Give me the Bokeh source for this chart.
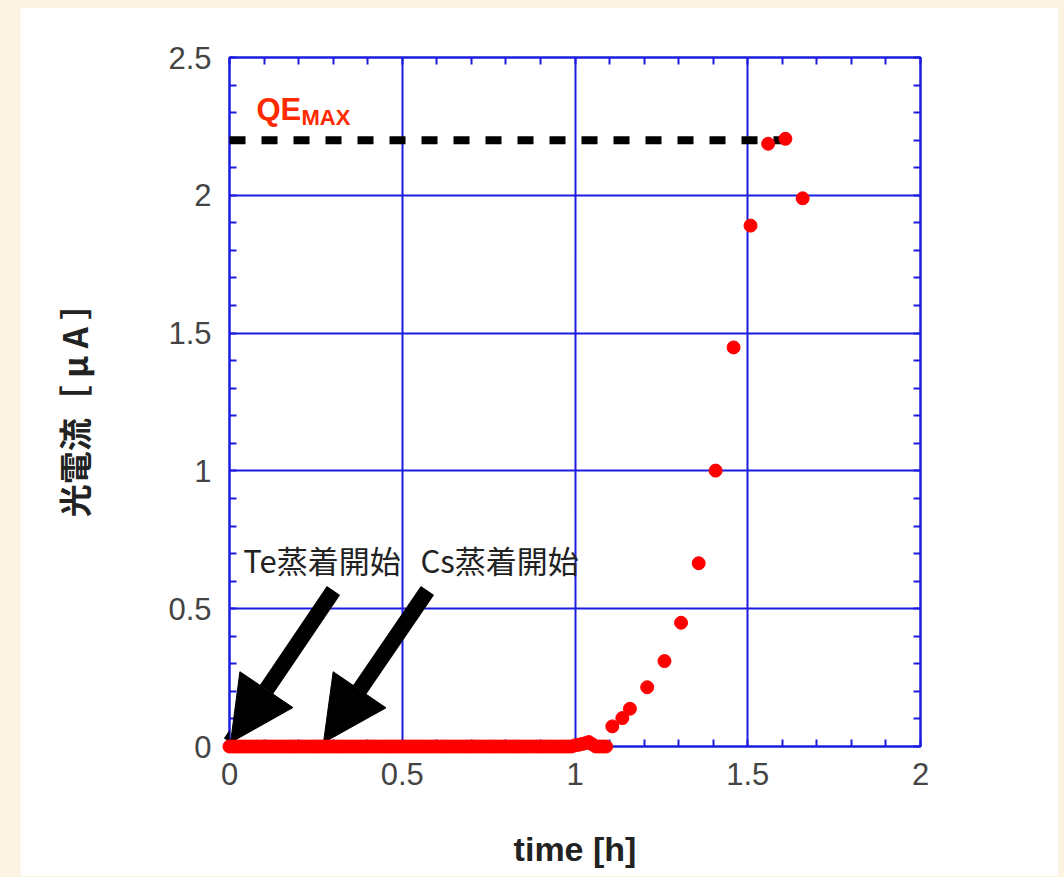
from bokeh.plotting import figure
from bokeh.models import (ColumnDataSource, SingleIntervalTicker, LinearAxis, Arrow,
                          NormalHead, Range1d, CustomJSTickFormatter)
from bokeh.core.properties import value
from bokeh.embed import file_html
from bokeh.resources import INLINE

# ---------------- data ----------------
# photocurrent baseline before Cs deposition (h)
base_time = [0.00, 0.01, 0.02, 0.03, 0.04, 0.05, 0.06, 0.07, 0.08, 0.09,
             0.10, 0.11, 0.12, 0.13, 0.14, 0.15, 0.16, 0.17, 0.18, 0.19,
             0.20, 0.21, 0.22, 0.23, 0.24, 0.25, 0.26, 0.27, 0.28, 0.29,
             0.30, 0.31, 0.32, 0.33, 0.34, 0.35, 0.36, 0.37, 0.38, 0.39,
             0.40, 0.41, 0.42, 0.43, 0.44, 0.45, 0.46, 0.47, 0.48, 0.49,
             0.50, 0.51, 0.52, 0.53, 0.54, 0.55, 0.56, 0.57, 0.58, 0.59,
             0.60, 0.61, 0.62, 0.63, 0.64, 0.65, 0.66, 0.67, 0.68, 0.69,
             0.70, 0.71, 0.72, 0.73, 0.74, 0.75, 0.76, 0.77, 0.78, 0.79,
             0.80, 0.81, 0.82, 0.83, 0.84, 0.85, 0.86, 0.87, 0.88, 0.89,
             0.90, 0.91, 0.92, 0.93, 0.94, 0.95, 0.96, 0.97, 0.98, 0.99]
base_current = [0.0] * len(base_time)
rise_time = [1.00, 1.01, 1.02, 1.03, 1.04, 1.05, 1.06, 1.07, 1.08, 1.09,
             1.108, 1.137, 1.159, 1.209, 1.259, 1.307, 1.358,
             1.407, 1.459, 1.508, 1.559, 1.609, 1.659]
rise_current = [0.004, 0.006, 0.009, 0.012, 0.016, 0.008, 0.0, 0.0, 0.0, 0.0,
                0.073, 0.103, 0.137, 0.215, 0.310, 0.449, 0.665,
                1.001, 1.448, 1.890, 2.187, 2.205, 1.989]

qe_max = 2.2
qe_line_x = [0.0, 1.6]
qe_label_x = 0.078

event_labels = ["Te蒸着開始", "Cs蒸着開始"]
event_label_x = [0.04, 0.553]
event_label_y = [0.678, 0.678]
arrow_tail_x = [0.301, 0.573]
arrow_tail_y = [0.566, 0.566]
arrow_tip_x = [0.003, 0.272]
arrow_tip_y = [0.014, 0.014]

x_ticks = [0, 0.5, 1, 1.5, 2]
x_tick_labels = ["0", "0.5", "1", "1.5", "2"]
y_ticks = [0, 0.5, 1, 1.5, 2, 2.5]
y_tick_labels = ["0", "0.5", "1", "1.5", "2", "2.5"]

BLUE = "#1c1ce0"
RED = "#ff0000"
QE_RED = "#ff2a00"
PAGE_BG = "#fdf3e2"

# ---------------- figure ----------------
p = figure(width=1038, height=869, margin=(7, 0, 0, 20),
           x_range=Range1d(0, 2), y_range=Range1d(0, 2.5),
           output_backend="svg", toolbar_location=None,
           min_border_left=209, min_border_right=138,
           min_border_top=50, min_border_bottom=130,
           background_fill_color="white", border_fill_color="white",
           outline_line_color=BLUE, outline_line_width=2,
           x_axis_label="time [h]", y_axis_label="光電流［ μ A ］")

xax = p.below[0]
yax = p.left[0]

fmt_code = """
const i = tick_vals.findIndex(t => Math.abs(t - tick) < 1e-9);
return i >= 0 ? tick_labels[i] : "";
"""
xax.formatter = CustomJSTickFormatter(args=dict(tick_vals=x_ticks, tick_labels=x_tick_labels), code=fmt_code)
yax.formatter = CustomJSTickFormatter(args=dict(tick_vals=y_ticks, tick_labels=y_tick_labels), code=fmt_code)

blank = CustomJSTickFormatter(code="return '';")
p.add_layout(LinearAxis(formatter=blank), "above")
p.add_layout(LinearAxis(formatter=blank), "right")

for ax in p.axis:
    ax.ticker = SingleIntervalTicker(interval=0.5, num_minor_ticks=5)
    ax.axis_line_color = BLUE
    ax.axis_line_width = 2
    ax.major_tick_in = 0
    ax.major_tick_out = 0
    ax.minor_tick_in = 7
    ax.minor_tick_out = 0
    ax.minor_tick_line_color = BLUE
    ax.minor_tick_line_width = 2
    ax.major_label_text_font = "Liberation Sans"
    ax.major_label_text_font_size = "31px"
    ax.major_label_text_color = "#444444"

yax.major_label_standoff = 18
xax.major_label_standoff = 16

yax.axis_label_text_font = "Noto Sans CJK JP"
yax.axis_label_text_font_size = "33px"
yax.axis_label_text_font_style = "bold"
yax.axis_label_text_color = "#222222"
yax.axis_label_standoff = 67

xax.axis_label_text_font = "Liberation Sans"
xax.axis_label_text_font_size = "34px"
xax.axis_label_text_font_style = "bold"
xax.axis_label_text_color = "#222222"
xax.axis_label_standoff = 42

for g in (p.xgrid[0], p.ygrid[0]):
    g.ticker = SingleIntervalTicker(interval=0.5, num_minor_ticks=5)
    g.grid_line_color = BLUE
    g.grid_line_width = 2

# QE max dashed line and label
p.line(x=qe_line_x, y=[qe_max, qe_max], line_color="black", line_width=8,
       line_dash="16 16", level="overlay")
p.text(x=[qe_label_x], y=[qe_max], text=["QE"], text_font=value("Liberation Sans"),
       text_font_style="bold", text_font_size="31px", text_color=QE_RED,
       text_baseline="middle", text_align="left", y_offset=-31)
p.text(x=[qe_label_x], y=[qe_max], text=["MAX"], text_font=value("Liberation Sans"),
       text_font_style="bold", text_font_size="22px", text_color=QE_RED,
       text_baseline="middle", text_align="left", x_offset=45, y_offset=-23)

# event labels and arrows
ev_src = ColumnDataSource(dict(x=event_label_x, y=event_label_y, text=event_labels))
p.text(x="x", y="y", text="text", source=ev_src, text_font=value("Noto Sans CJK JP"),
       text_font_size="31px", text_color="#222222", text_baseline="middle", text_align="left")

arr_src = ColumnDataSource(dict(xs=arrow_tail_x, ys=arrow_tail_y, xe=arrow_tip_x, ye=arrow_tip_y))
p.add_layout(Arrow(x_start="xs", y_start="ys", x_end="xe", y_end="ye", source=arr_src,
                   line_color="black", line_width=16,
                   end=NormalHead(size=64, fill_color="black", line_color="black", line_width=1)))

# data points
p.scatter(x=base_time, y=base_current, size=13, color=RED, level="overlay")
p.scatter(x=rise_time, y=rise_current, size=13, color=RED, level="overlay")

html = file_html(p, INLINE)
html = html.replace("</head>", "<style>html, body { background-color: %s; }</style></head>" % PAGE_BG, 1)
open("out.html", "w").write(html)
